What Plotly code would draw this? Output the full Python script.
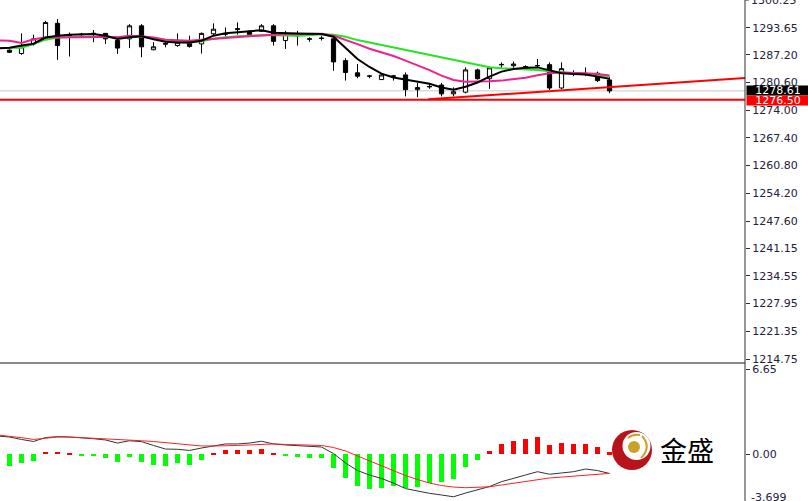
import plotly.graph_objects as go

# ---------------- data ----------------
bars = list(range(51))
opens = [1288.3, 1287.5, 1289.8, 1291.0, 1294.7, 1291.6, 1292.0, 1292.1, 1292.3, 1290.6,
         1291.0, 1294.1, 1288.4, 1289.7, 1289.4, 1290.2, 1289.8, 1292.2, 1292.1, 1293.2,
         1292.8, 1292.8, 1294.1, 1290.6, 1291.7, 1290.9, 1291.1, 1291.0, 1285.8, 1282.9,
         1282.1, 1281.3, 1282.1, 1282.4, 1278.9, 1279.55, 1280.0, 1277.9, 1278.3, 1283.6,
         1281.5, 1284.8, 1284.6, 1284.4, 1284.55, 1284.85, 1279.3, 1282.75, 1282.65, 1282.8,
         1281.2]
highs = [1288.5, 1292.3, 1292.0, 1295.3, 1295.7, 1292.5, 1292.4, 1293.1, 1292.4, 1290.8,
         1294.5, 1294.5, 1290.2, 1290.4, 1292.3, 1291.75, 1292.5, 1294.7, 1293.7, 1294.9,
         1293.0, 1294.5, 1294.5, 1292.9, 1292.9, 1291.35, 1291.75, 1291.3, 1286.4, 1285.0,
         1282.4, 1282.6, 1282.4, 1283.0, 1280.5, 1280.5, 1280.5, 1279.45, 1284.2, 1283.9,
         1284.4, 1285.4, 1285.6, 1284.7, 1286.2, 1285.4, 1285.4, 1283.5, 1284.2, 1283.2,
         1281.85]
lows = [1287.6, 1287.2, 1289.4, 1290.9, 1286.0, 1286.8, 1291.7, 1290.2, 1289.8, 1287.4,
        1288.8, 1286.6, 1288.3, 1289.0, 1289.1, 1288.9, 1287.5, 1291.7, 1291.5, 1292.0,
        1291.5, 1292.7, 1289.4, 1288.6, 1289.4, 1290.3, 1290.6, 1283.4, 1281.05, 1281.6,
        1281.6, 1281.3, 1281.05, 1277.3, 1277.1, 1279.1, 1277.3, 1277.3, 1278.0, 1281.3,
        1279.1, 1284.1, 1284.1, 1283.6, 1284.1, 1278.85, 1279.0, 1282.1, 1282.1, 1280.7,
        1278.05]
closes = [1287.8, 1289.1, 1291.0, 1294.9, 1289.4, 1291.8, 1292.1, 1292.3, 1291.0, 1288.8,
          1294.1, 1289.1, 1289.1, 1289.9, 1290.2, 1289.2, 1292.3, 1293.3, 1292.2, 1293.4,
          1292.0, 1294.1, 1290.4, 1292.15, 1291.8, 1291.0, 1291.15, 1285.5, 1283.0, 1282.1,
          1282.15, 1282.4, 1282.15, 1278.9, 1279.4, 1279.65, 1277.9, 1278.4, 1283.6, 1281.5,
          1284.1, 1284.9, 1285.0, 1283.9, 1284.65, 1279.3, 1283.9, 1282.85, 1282.75, 1281.05,
          1278.61]

# line series start one bar before the first visible candle
line_bars = list(range(-1, 51))
ma_fast = [1288.7, 1288.9, 1289.4, 1289.85, 1291.3, 1291.75, 1292.0, 1292.1, 1292.15, 1291.75, 1290.95,
           1291.4, 1291.6, 1290.9, 1290.3, 1290.15, 1290.15, 1290.55, 1291.75, 1292.35, 1292.6,
           1292.8, 1293.05, 1292.45, 1292.3, 1292.3, 1292.2, 1292.15, 1291.5, 1288.9, 1286.2,
           1284.3, 1282.7, 1281.8, 1281.3, 1280.9, 1280.3, 1279.4, 1278.9, 1279.6, 1280.6,
           1282.0, 1283.2, 1283.8, 1284.1, 1284.2, 1283.55, 1282.8, 1282.65, 1282.5, 1282.0,
           1281.5]
ma_mid = [1290.6, 1290.55, 1290.0, 1290.9, 1291.3, 1291.4, 1291.35, 1291.35, 1291.45, 1291.5, 1291.4,
          1291.75, 1291.6, 1291.3, 1290.8, 1290.7, 1290.55, 1290.8, 1291.0, 1291.3, 1291.4,
          1291.6, 1291.75, 1292.0, 1292.1, 1292.15, 1292.2, 1292.2, 1291.75, 1290.8, 1289.75,
          1288.65, 1287.85, 1286.9, 1285.8, 1284.75, 1283.55, 1282.25, 1281.2, 1280.8, 1280.8,
          1280.9, 1281.05, 1281.4, 1281.75, 1282.35, 1282.8, 1283.0, 1282.95, 1282.8, 1282.6,
          1282.25]
ma_slow = [1288.8, 1288.9, 1288.9, 1289.75, 1290.8, 1291.3, 1291.45, 1291.5, 1291.5, 1291.4, 1291.3,
           1291.4, 1291.5, 1291.15, 1290.7, 1290.3, 1290.15, 1290.45, 1291.0, 1291.4, 1291.6,
           1291.75, 1291.85, 1291.85, 1291.75, 1291.75, 1291.85, 1292.1, 1292.0, 1291.5, 1290.7,
           1290.1, 1289.5, 1288.9, 1288.3, 1287.7, 1287.25, 1286.65, 1285.9, 1285.3, 1284.75,
           1284.25, 1284.0, 1283.9, 1283.8, 1283.55, 1283.3, 1283.0, 1282.7, 1282.45, 1282.25,
           1282.15]

macd_line = [1.43, 1.35, 1.16, 1.0, 1.31, 1.38, 1.35, 1.3, 1.22, 1.12, 0.88,
             1.06, 0.99, 0.69, 0.41, 0.39, 0.30, 0.49, 0.65, 0.81, 0.81,
             0.88, 1.02, 0.81, 0.73, 0.67, 0.65, 0.57, 0.06, -0.68, -1.27,
             -1.62, -1.89, -2.25, -2.68, -2.87, -3.05, -3.18, -3.32, -3.03, -2.79,
             -2.52, -2.14, -1.85, -1.62, -1.36, -1.56, -1.46, -1.36, -1.15, -1.27,
             -1.5]
signal_line = [1.51, 1.43, 1.3, 1.16, 1.24, 1.35, 1.35, 1.31, 1.25, 1.2, 1.16,
               1.12, 1.06, 1.0, 0.92, 0.85, 0.75, 0.65, 0.65, 0.65, 0.69,
               0.73, 0.77, 0.81, 0.77, 0.73, 0.73, 0.69, 0.53, 0.26, -0.13,
               -0.52, -0.91, -1.31, -1.66, -1.97, -2.25, -2.44, -2.56, -2.61, -2.6,
               -2.54, -2.4, -2.27, -2.13, -1.97, -1.85, -1.78, -1.7, -1.62, -1.54,
               -1.49]
histogram = [-0.91, -0.70, -0.50, 0.18, 0.18, 0.08, -0.1, -0.1, -0.31, -0.63,
             -0.18, -0.63, -0.84, -0.91, -0.70, -0.84, -0.44, 0.08, 0.31, 0.31,
             0.31, 0.44, 0.05, -0.1, -0.18, -0.31, -0.31, -1.1, -1.88, -2.48,
             -2.72, -2.66, -2.48, -2.66, -2.58, -2.27, -2.14, -1.93, -0.97, -0.44,
             0.28, 0.81, 1.04, 1.2, 1.38, 0.73, 0.86, 0.81, 0.81, 0.6,
             0.15]

price_ticks = [1293.65, 1287.20, 1280.60, 1274.00, 1267.40, 1260.80, 1254.20,
               1247.60, 1241.15, 1234.55, 1227.95, 1221.35, 1214.75]
price_tick_labels = ["1293.65", "1287.20", "1280.60", "1274.00", "1267.40", "1260.80",
                     "1254.20", "1247.60", "1241.15", "1234.55", "1227.95", "1221.35", "1214.75"]
price_max = 1300.25
price_max_label = "1300.25"
macd_ticks = [6.65, 0.0]
macd_tick_labels = ["6.65", "0.00"]
macd_min_label = "-3.699"

current_price = 1278.61
support_level = 1276.50
trend_bars = [34.9, 61.3]
trend_prices = [1276.6, 1281.7]

brand_text = "金盛"

# ---------------- layout constants ----------------
W, H = 808, 501
PLOT_W = 745
X_RANGE = [-0.7917, 61.29]
TOP_RANGE = [1214.75, 1300.25]
BOT_RANGE = [-3.65, 6.98]
TICK_FONT = dict(family="DejaVu Sans", size=11, color="#22223a")


def px(x):
    return x / PLOT_W


def py(y):
    return (H - y) / H


fig = go.Figure()

fig.add_trace(go.Candlestick(
    x=bars, open=opens, high=highs, low=lows, close=closes,
    increasing=dict(line=dict(color="black", width=1), fillcolor="white"),
    decreasing=dict(line=dict(color="black", width=1), fillcolor="black"),
    whiskerwidth=0, showlegend=False, xaxis="x", yaxis="y",
))

fig.add_trace(go.Scatter(x=line_bars, y=ma_slow, mode="lines",
                         line=dict(color="#22e622", width=2), showlegend=False))
fig.add_trace(go.Scatter(x=line_bars, y=ma_mid, mode="lines",
                         line=dict(color="#f0208c", width=2), showlegend=False))
fig.add_trace(go.Scatter(x=line_bars, y=ma_fast, mode="lines",
                         line=dict(color="black", width=2), showlegend=False))
fig.add_trace(go.Scatter(x=trend_bars, y=trend_prices, mode="lines",
                         line=dict(color="#ff0000", width=2), showlegend=False))

hist_colors = ["#ff0000" if v > 0 else "#00ff00" for v in histogram]
fig.add_trace(go.Bar(x=bars, y=histogram, marker=dict(color=hist_colors, line=dict(width=0)),
                     width=0.42, showlegend=False, xaxis="x2", yaxis="y2"))
fig.add_trace(go.Scatter(x=line_bars, y=macd_line, mode="lines",
                         line=dict(color="#333333", width=1), showlegend=False,
                         xaxis="x2", yaxis="y2"))
fig.add_trace(go.Scatter(x=line_bars, y=signal_line, mode="lines",
                         line=dict(color="#ff2020", width=1), showlegend=False,
                         xaxis="x2", yaxis="y2"))

shapes = [
    dict(type="line", xref="x domain", x0=0, x1=1, yref="y", y0=current_price, y1=current_price,
         line=dict(color="#c8c8c8", width=1), layer="below"),
    dict(type="line", xref="x domain", x0=0, x1=1, yref="y", y0=support_level, y1=support_level,
         line=dict(color="#ff0000", width=2)),
    dict(type="line", xref="paper", x0=0, x1=1, yref="paper", y0=py(363), y1=py(363),
         line=dict(color="#8a8a8a", width=2)),
    dict(type="line", xref="paper", x0=1, x1=1, yref="paper", y0=0, y1=1,
         line=dict(color="#303030", width=1)),
    dict(type="line", xref="paper", x0=1, x1=1 + px(4), yref="y", y0=price_max, y1=price_max,
         line=dict(color="#303030", width=1)),
    dict(type="circle", xref="paper", yref="paper", x0=px(612), x1=px(652), y0=py(470), y1=py(430),
         fillcolor="#b8121c", line=dict(width=0)),
    dict(type="circle", xref="paper", yref="paper", x0=px(622.5), x1=px(650.5), y0=py(460), y1=py(432),
         fillcolor="white", line=dict(width=0)),
    dict(type="circle", xref="paper", yref="paper", x0=px(628), x1=px(640), y0=py(453), y1=py(441),
         fillcolor="#c9a227", line=dict(width=0)),
    dict(type="path", xref="paper", yref="paper",
         path=f"M {px(642)} {py(436)} Q {px(652)} {py(447)} {px(641)} {py(458)}",
         line=dict(color="#c9a227", width=2)),
    dict(type="path", xref="paper", yref="paper",
         path=f"M {px(628)} {py(438)} Q {px(633)} {py(434)} {px(640)} {py(435)}",
         line=dict(color="#c9a227", width=2)),
]

annotations = [
    dict(xref="paper", yref="y", x=1, y=current_price, xanchor="left", yanchor="middle",
         text=f"{current_price:.2f}", showarrow=False, bgcolor="black",
         font=dict(family="DejaVu Sans", size=11, color="white"), width=62, height=9,
         borderpad=0, align="center", xshift=1),
    dict(xref="paper", yref="y", x=1, y=support_level, xanchor="left", yanchor="middle",
         text=f"{support_level:.2f}", showarrow=False, bgcolor="#ff0000",
         font=dict(family="DejaVu Sans", size=11, color="white"), width=62, height=9,
         borderpad=0, align="center", xshift=1, yshift=-1),
    dict(xref="paper", yref="y", x=1, y=price_max, xanchor="left", yanchor="middle",
         text=price_max_label, showarrow=False, font=TICK_FONT, xshift=4),
    dict(xref="paper", yref="paper", x=1, y=py(497), xanchor="left", yanchor="middle",
         text=macd_min_label, showarrow=False, font=TICK_FONT, xshift=4),
    dict(xref="paper", yref="paper", x=px(687), y=py(449), xanchor="center", yanchor="middle",
         text=brand_text, showarrow=False,
         font=dict(family="Noto Sans CJK SC", size=27, color="black")),
]

fig.update_layout(
    width=W, height=H, margin=dict(l=0, r=W - PLOT_W, t=0, b=0, pad=0, autoexpand=False),
    paper_bgcolor="white", plot_bgcolor="white",
    boxgap=0.5, bargap=0, showlegend=False,
    xaxis=dict(range=X_RANGE, visible=False, rangeslider=dict(visible=False), anchor="y",
               domain=[0, 1], automargin=False),
    xaxis2=dict(range=X_RANGE, visible=False, anchor="y2", matches="x", domain=[0, 1],
                automargin=False),
    yaxis=dict(domain=[py(359), 1], range=TOP_RANGE, side="right", anchor="x",
               tickvals=price_ticks, ticktext=price_tick_labels, ticks="outside", ticklen=4,
               tickcolor="#303030", showgrid=False, zeroline=False, showline=False,
               tickfont=TICK_FONT, automargin=False),
    yaxis2=dict(domain=[0, py(365)], range=BOT_RANGE, side="right", anchor="x2",
                tickvals=macd_ticks, ticktext=macd_tick_labels, ticks="outside", ticklen=4,
                tickcolor="#303030", showgrid=False, zeroline=False, showline=False,
                tickfont=TICK_FONT, automargin=False),
    shapes=shapes, annotations=annotations,
)

fig.write_html("out.html", config={"displayModeBar": False},
               post_script="document.body.style.margin='0';document.body.style.overflow='hidden';")
